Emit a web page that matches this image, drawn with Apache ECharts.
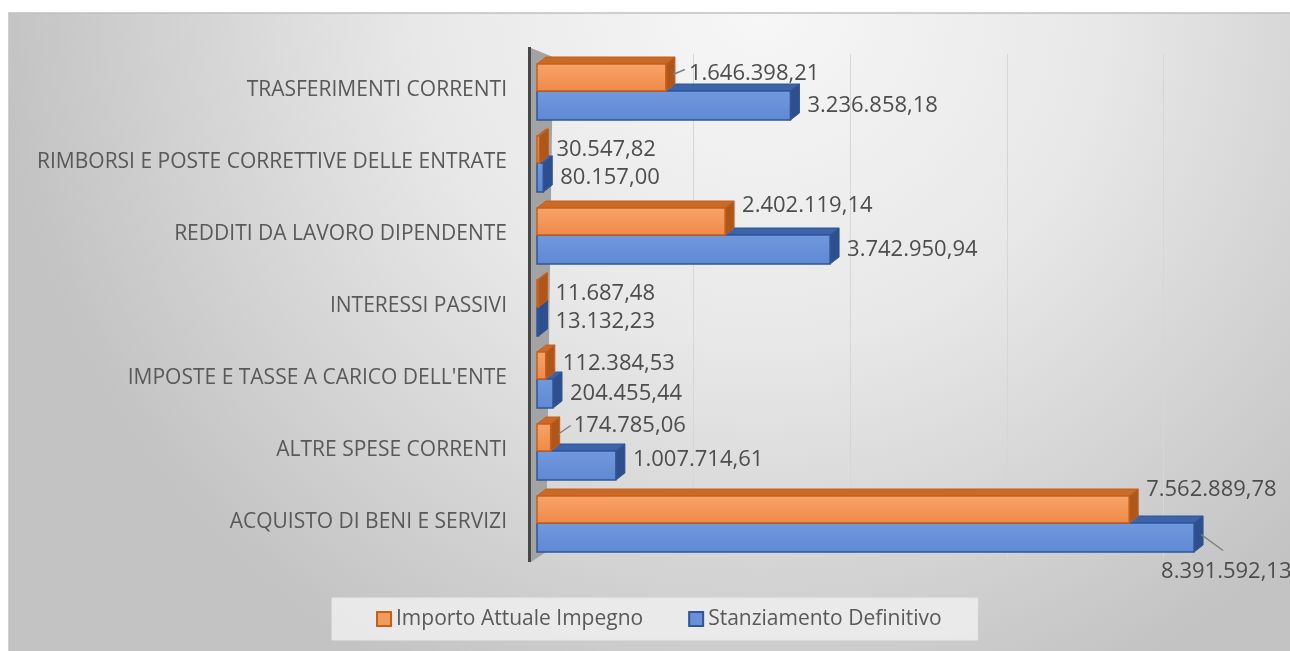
<!DOCTYPE html>
<html>
<head>
<meta charset="utf-8">
<script src="https://cdn.jsdelivr.net/npm/echarts@6/dist/echarts.min.js"></script>
<style>
  html, body { margin: 0; padding: 0; background: #fff; }
  #chart { width: 1290px; height: 651px; }
</style>
</head>
<body>
<div id="chart"></div>
<script>
const categories = [
  'TRASFERIMENTI CORRENTI',
  'RIMBORSI E POSTE CORRETTIVE DELLE ENTRATE',
  'REDDITI DA LAVORO DIPENDENTE',
  'INTERESSI PASSIVI',
  "IMPOSTE E TASSE A CARICO DELL'ENTE",
  'ALTRE SPESE CORRENTI',
  'ACQUISTO DI BENI E SERVIZI'
]
const impegno = [1646398.21, 30547.82, 2402119.14, 11687.48, 112384.53, 174785.06, 7562889.78]
const stanziamento = [3236858.18, 80157.00, 3742950.94, 13132.23, 204455.44, 1007714.61, 8391592.13]
const seriesNames = ['Importo Attuale Impegno', 'Stanziamento Definitivo']

// label nudges [dx, dy] and leader end (relative to label) - layout only
const orangeShift = [[6, -4], [0, 0], [0, -16], [0, 0], [0, -2], [6, -12], [0, -20]]
const blueShift = [[0, 0], [0, 0], [0, 0], [0, 0], [0, 0], [0, -6], [-50, 34]]
const orangeLeader = [[-4, -4], null, null, null, null, [-3, 0], null]
const blueLeader = [null, null, null, null, null, null, [62, -21]]

const GRID_LEFT = 537
const GRID_TOP = 54
const GRID_H = 504
const DX = 9
const DY = -7

const look = {
  orange: { front: ['#F7A36B', '#EF8A45'], border: '#C65F1A', top: '#CB6A27', side: '#AF561B' },
  blue: { front: ['#7099DE', '#5F88D3'], border: '#2F5597', top: '#3D63AA', side: '#2E4F8E' }
}

function fmt (v) {
  const parts = v.toFixed(2).split('.')
  return parts[0].replace(/\B(?=(\d{3})+(?!\d))/g, '.') + ',' + parts[1]
}

function makeRender (kind) {
  const c = look[kind]
  const shift = kind === 'orange' ? orangeShift : blueShift
  const leader = kind === 'orange' ? orangeLeader : blueLeader
  return function (params, api) {
    const v = api.value(0)
    const idx = api.value(1)
    const p0 = api.coord([0, idx])
    const p1 = api.coord([v, idx])
    const mid = p0[1]
    let y0, y1
    if (kind === 'orange') {
      y0 = mid + 1 - 27
      y1 = mid + 1
    } else {
      y0 = mid + 1
      y1 = mid + 30
    }
    const x0 = p0[0]
    const x1 = Math.max(p1[0], x0 + 1.5)
    const children = [
      {
        type: 'polygon',
        shape: { points: [[x0, y0], [x0 + DX, y0 + DY], [x1 + DX, y0 + DY], [x1, y0]] },
        style: { fill: c.top, stroke: c.border, lineWidth: 1 }
      },
      {
        type: 'polygon',
        shape: { points: [[x1, y0], [x1 + DX, y0 + DY], [x1 + DX, y1 + DY], [x1, y1]] },
        style: { fill: c.side, stroke: c.border, lineWidth: 1 }
      },
      {
        type: 'rect',
        shape: { x: x0, y: y0, width: x1 - x0, height: y1 - y0 },
        style: {
          fill: new echarts.graphic.LinearGradient(0, 0, 0, 1, [
            { offset: 0, color: c.front[0] },
            { offset: 1, color: c.front[1] }
          ]),
          stroke: c.border,
          lineWidth: 1.5
        }
      }
    ]
    const s = shift[idx]
    const lx = x1 + 17 + s[0]
    const ly = (y0 + y1) / 2 + s[1]
    const ld = leader[idx]
    if (ld) {
      children.push({
        type: 'polyline',
        shape: { points: [[x1 + DX - 2, (y0 + y1) / 2 - 3], [lx + ld[0], ly + ld[1]]] },
        style: { stroke: '#7f7f7f', lineWidth: 1.5, fill: null }
      })
    }
    children.push({
      type: 'text',
      style: {
        x: lx,
        y: ly,
        text: fmt(v),
        fill: '#4d4d4d',
        font: '22px "Open Sans"',
        align: 'left',
        verticalAlign: 'middle'
      }
    })
    return { type: 'group', children: children }
  }
}

const chart = echarts.init(document.getElementById('chart'))

const option = {
  animation: false,
  backgroundColor: '#ffffff',
  textStyle: { fontFamily: 'Open Sans' },
  graphic: {
    elements: [
      {
        type: 'rect',
        z: -100,
        shape: { x: 9, y: 13, width: 1290, height: 640 },
        style: {
          fill: new echarts.graphic.RadialGradient(760, 0, 760, [
            { offset: 0, color: '#f7f7f7' },
            { offset: 0.45, color: '#e8e8e8' },
            { offset: 1, color: '#c3c3c3' }
          ], true),
          stroke: '#c0c0c0',
          lineWidth: 1.5
        }
      },
      {
        type: 'polygon',
        z: 1,
        shape: { points: [[GRID_LEFT - 6, GRID_TOP - 6], [GRID_LEFT + 16, GRID_TOP + 3], [GRID_LEFT + 9, GRID_TOP + GRID_H - 6], [GRID_LEFT - 6, GRID_TOP + GRID_H + 4]] },
        style: { fill: '#a3a3a3' }
      },
      {
        type: 'rect',
        z: 1,
        shape: { x: GRID_LEFT - 9, y: GRID_TOP - 7, width: 3, height: GRID_H + 11 },
        style: { fill: '#474747' }
      }
    ]
  },
  legend: {
    left: 332,
    top: 598,
    itemWidth: 14,
    itemHeight: 14,
    itemGap: 45,
    padding: [8, 36, 8, 44],
    backgroundColor: 'rgba(238,238,238,0.85)',
    borderColor: '#e6e6e6',
    borderWidth: 1,
    borderRadius: 0,
    icon: 'rect',
    textStyle: { fontFamily: 'Open Sans', fontSize: 21, color: '#595959', lineHeight: 26 },
    data: [
      { name: seriesNames[0], itemStyle: { color: '#F29A5E', borderColor: '#C65F1A', borderWidth: 2 } },
      { name: seriesNames[1], itemStyle: { color: '#6790D8', borderColor: '#2F5597', borderWidth: 2 } }
    ]
  },
  grid: {
    left: GRID_LEFT,
    top: GRID_TOP,
    width: 783,
    height: GRID_H,
    outerBoundsMode: 'none'
  },
  xAxis: {
    type: 'value',
    min: 0,
    max: 10000000,
    interval: 2000000,
    axisLabel: { show: false },
    axisLine: { show: false },
    axisTick: { show: false },
    splitLine: { lineStyle: { color: '#d6d6d6', width: 1 } }
  },
  yAxis: {
    type: 'category',
    inverse: true,
    data: categories,
    axisLine: { show: false },
    axisTick: { show: false },
    axisLabel: { margin: 30, fontSize: 21, color: '#595959', fontFamily: 'Open Sans' }
  },
  series: [
    {
      type: 'custom',
      name: seriesNames[1],
      z: 2,
      itemStyle: { color: '#6790D8' },
      renderItem: makeRender('blue'),
      encode: { x: 0, y: 1 },
      data: stanziamento.map((v, i) => [v, i])
    },
    {
      type: 'custom',
      name: seriesNames[0],
      z: 3,
      itemStyle: { color: '#F29A5E' },
      renderItem: makeRender('orange'),
      encode: { x: 0, y: 1 },
      data: impegno.map((v, i) => [v, i])
    }
  ]
}

chart.setOption(option)
</script>
</body>
</html>
